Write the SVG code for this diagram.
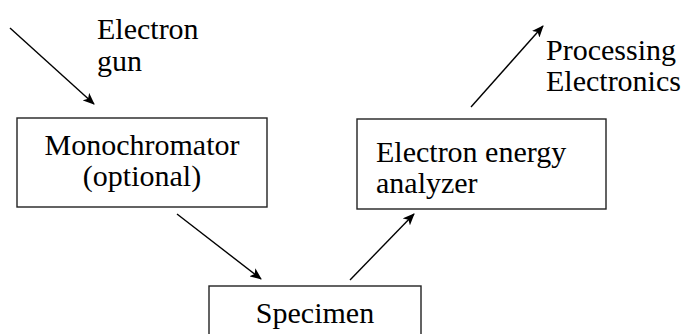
<svg xmlns="http://www.w3.org/2000/svg" width="698" height="334" viewBox="0 0 698 334">
<defs>
<marker id="ah" viewBox="0 0 12 10" refX="11" refY="5" markerWidth="12" markerHeight="10" markerUnits="userSpaceOnUse" orient="auto">
<path d="M0,0 L12,5 L0,10 L3,5 Z" fill="#000"/>
</marker>
<style>
.box{fill:#fff;stroke:#222;stroke-width:1.4}
.c{text-anchor:middle}
.ln{stroke:#000;stroke-width:1.4;fill:none;marker-end:url(#ah)}
</style>
</defs>
<rect width="698" height="334" fill="#fff"/>
<g id="label-gun">
<text x="97" y="39" style="font-family:'Liberation Serif';font-size:30px">Electron</text>
<text x="97" y="71" style="font-family:'Liberation Serif';font-size:30px">gun</text>
</g>
<g id="label-processing">
<text x="546" y="60" style="font-family:'Liberation Serif';font-size:30px">Processing</text>
<text x="546" y="91" style="font-family:'Liberation Serif';font-size:30px">Electronics</text>
</g>
<g id="monochromator">
<rect class="box" x="17" y="118" width="250" height="89"/>
<text class="c" x="142" y="155" style="font-family:'Liberation Serif';font-size:30px">Monochromator</text>
<text class="c" x="142" y="186" style="font-family:'Liberation Serif';font-size:30px">(optional)</text>
</g>
<g id="analyzer">
<rect class="box" x="357" y="119" width="249" height="90"/>
<text x="376" y="162" style="font-family:'Liberation Serif';font-size:30px">Electron energy</text>
<text x="376" y="193" style="font-family:'Liberation Serif';font-size:30px">analyzer</text>
</g>
<g id="specimen">
<rect class="box" x="209" y="286" width="212" height="60"/>
<text class="c" x="315" y="323" style="font-family:'Liberation Serif';font-size:30px">Specimen</text>
</g>
<g id="connectors">
<line class="ln" x1="10" y1="28" x2="94" y2="104"/>
<line class="ln" x1="177" y1="214" x2="261" y2="279"/>
<line class="ln" x1="350" y1="280" x2="414" y2="214"/>
<line class="ln" x1="471" y1="107" x2="543" y2="26"/>
</g>
</svg>
